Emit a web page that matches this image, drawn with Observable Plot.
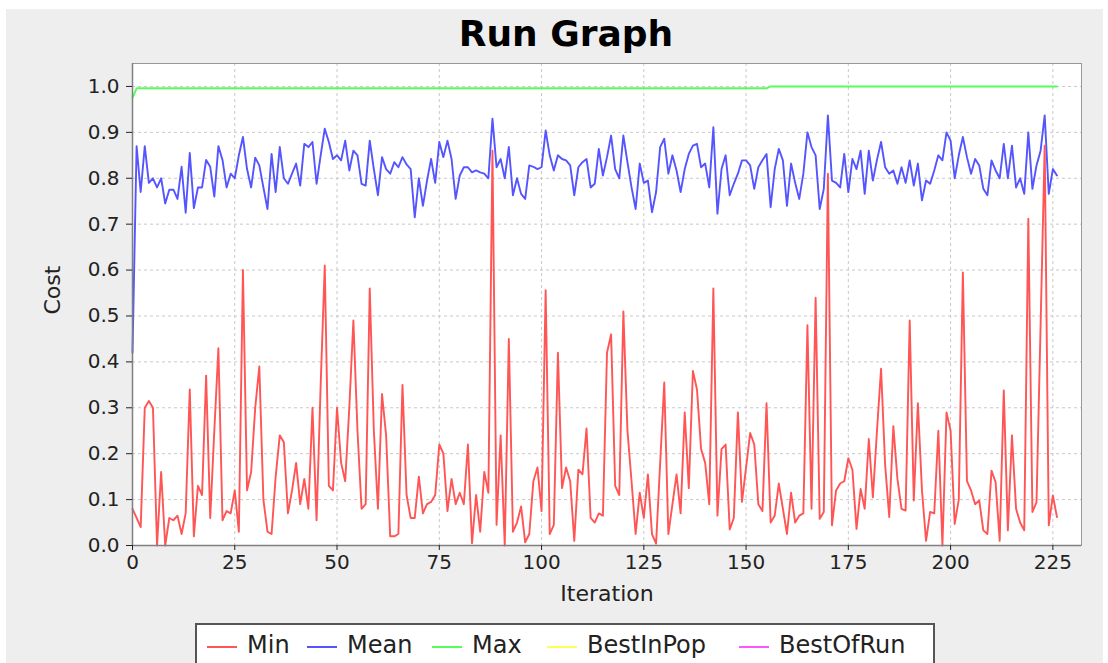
<!DOCTYPE html>
<html><head><meta charset="utf-8">
<script src="https://cdn.jsdelivr.net/npm/d3@7"></script>
<script src="https://cdn.jsdelivr.net/npm/@observablehq/plot@0.6"></script>
<style>
html,body{margin:0;padding:0;background:#ffffff;}
#wrap{position:relative;width:1108px;height:663px;overflow:hidden;background:#ffffff;font-family:"DejaVu Sans",sans-serif;}
#panel{position:absolute;left:6px;top:9px;width:1097px;height:654px;background:#eeeeee;}
#title{position:absolute;left:12px;top:12px;width:1108px;text-align:center;font-weight:bold;font-size:36px;line-height:44px;color:#000;}
#chart{position:absolute;left:0;top:58px;}
#legend{position:absolute;left:195px;top:623px;width:740px;height:48px;border:2px solid #555;background:#fff;box-sizing:border-box;font-family:"DejaVu Sans",sans-serif;font-size:24px;color:#222;}
#legend .sw{position:absolute;width:30px;height:2px;top:21px;}
#legend .tx{position:absolute;top:6px;line-height:28px;white-space:nowrap;}
</style></head><body>
<div id="wrap">
<div id="panel"></div>
<div id="title">Run Graph</div>
<div id="chart"></div>
<div id="legend"></div>
</div>
<script>
const seriesNames = ["Min", "Mean", "Max", "BestInPop", "BestOfRun"];
const seriesColors = ["#ff5555", "#5555ff", "#55ff55", "#ffff55", "#ff55ff"];
const xTicks = [0, 25, 50, 75, 100, 125, 150, 175, 200, 225];
const yTicks = [0, 0.1, 0.2, 0.3, 0.4, 0.5, 0.6, 0.7, 0.8, 0.9, 1.0];

const minCost = [
0.08,0.06,0.04,0.30,0.315,0.30,0.0,0.16,0.0,0.06,
0.055,0.065,0.025,0.07,0.34,0.02,0.13,0.11,0.37,0.06,
0.25,0.43,0.055,0.075,0.07,0.12,0.03,0.60,0.12,0.16,
0.30,0.39,0.10,0.03,0.025,0.15,0.24,0.225,0.07,0.12,
0.18,0.09,0.145,0.08,0.30,0.055,0.35,0.61,0.13,0.12,
0.30,0.18,0.14,0.30,0.49,0.25,0.08,0.09,0.56,0.25,
0.08,0.33,0.24,0.02,0.02,0.025,0.35,0.11,0.06,0.06,
0.15,0.07,0.09,0.095,0.11,0.22,0.20,0.075,0.145,0.09,
0.115,0.09,0.22,0.005,0.11,0.03,0.16,0.115,0.86,0.045,
0.24,0.0,0.45,0.03,0.05,0.085,0.007,0.025,0.14,0.17,
0.075,0.556,0.025,0.045,0.42,0.125,0.17,0.14,0.01,0.165,
0.155,0.255,0.06,0.05,0.07,0.065,0.42,0.46,0.13,0.11,
0.51,0.25,0.14,0.025,0.115,0.06,0.155,0.025,0.004,0.18,
0.355,0.025,0.09,0.155,0.07,0.29,0.125,0.38,0.34,0.21,
0.18,0.09,0.56,0.065,0.21,0.22,0.035,0.06,0.29,0.095,
0.17,0.245,0.22,0.09,0.075,0.31,0.05,0.065,0.135,0.08,
0.025,0.115,0.05,0.065,0.07,0.48,0.08,0.54,0.058,0.073,
0.81,0.044,0.12,0.135,0.14,0.19,0.165,0.036,0.123,0.08,
0.232,0.105,0.25,0.385,0.175,0.062,0.26,0.145,0.08,0.076,
0.49,0.098,0.31,0.12,0.01,0.073,0.07,0.25,0.0,0.29,
0.25,0.047,0.1,0.595,0.14,0.12,0.09,0.098,0.033,0.025,
0.163,0.138,0.01,0.338,0.033,0.24,0.08,0.05,0.033,0.712,
0.073,0.094,0.48,0.871,0.044,0.109,0.062
];

const meanCost = [
0.42,0.87,0.77,0.87,0.79,0.80,0.78,0.80,0.745,0.775,
0.775,0.755,0.825,0.725,0.855,0.735,0.78,0.78,0.84,0.825,
0.76,0.87,0.84,0.78,0.81,0.80,0.85,0.89,0.82,0.78,
0.845,0.828,0.78,0.733,0.853,0.77,0.868,0.80,0.788,0.81,
0.832,0.784,0.875,0.868,0.879,0.788,0.85,0.908,0.879,0.842,
0.85,0.839,0.882,0.817,0.86,0.85,0.788,0.784,0.882,0.82,
0.763,0.846,0.82,0.81,0.835,0.824,0.846,0.83,0.82,0.715,
0.80,0.74,0.795,0.842,0.79,0.879,0.846,0.882,0.842,0.755,
0.806,0.824,0.824,0.813,0.817,0.813,0.81,0.80,0.93,0.824,
0.842,0.80,0.868,0.763,0.80,0.766,0.755,0.828,0.825,0.82,
0.824,0.904,0.85,0.817,0.85,0.842,0.839,0.828,0.763,0.824,
0.835,0.842,0.78,0.788,0.864,0.806,0.846,0.893,0.82,0.80,
0.893,0.835,0.78,0.733,0.832,0.79,0.795,0.726,0.77,0.868,
0.886,0.81,0.85,0.817,0.77,0.82,0.853,0.871,0.875,0.824,
0.832,0.78,0.911,0.723,0.82,0.85,0.763,0.788,0.81,0.839,
0.839,0.828,0.777,0.824,0.839,0.853,0.737,0.82,0.864,0.839,
0.74,0.832,0.79,0.755,0.81,0.90,0.868,0.85,0.733,0.777,
0.937,0.795,0.79,0.78,0.853,0.77,0.842,0.82,0.86,0.766,
0.86,0.795,0.84,0.879,0.824,0.81,0.817,0.788,0.824,0.79,
0.839,0.784,0.832,0.752,0.795,0.788,0.817,0.85,0.839,0.90,
0.882,0.80,0.85,0.89,0.846,0.81,0.842,0.828,0.777,0.763,
0.839,0.817,0.80,0.875,0.80,0.871,0.78,0.80,0.766,0.90,
0.777,0.828,0.86,0.937,0.766,0.82,0.806
];

// Max series: vertices where it changes (flat otherwise)
const maxIter = [0, 1, 155, 156, 226];
const maxCost = [0.975, 0.996, 0.996, 1.0, 1.0];

const minData = minCost.map((v, i) => ({i, v}));
const meanData = meanCost.map((v, i) => ({i, v}));
const maxData = maxIter.map((i, k) => ({i, v: maxCost[k]}));

const chart = Plot.plot({
  width: 1108,
  height: 560,
  marginLeft: 132,
  marginRight: 27,
  marginTop: 5,
  marginBottom: 73,
  style: {background: "transparent", fontFamily: "DejaVu Sans, sans-serif"},
  x: {domain: [0, 232]},
  y: {domain: [0, 1.05]},
  marks: [
    Plot.frame({fill: "#ffffff"}),
    Plot.gridX(xTicks, {stroke: "#c8c8c8", strokeOpacity: 1, strokeDasharray: "3,3"}),
    Plot.gridY(yTicks, {stroke: "#c8c8c8", strokeOpacity: 1, strokeDasharray: "3,3"}),
    Plot.frame({stroke: "#999999", strokeWidth: 1}),
    Plot.line(maxData, {x: "i", y: "v", stroke: seriesColors[2], strokeWidth: 2}),
    Plot.line(meanData, {x: "i", y: "v", stroke: seriesColors[1], strokeWidth: 1.9}),
    Plot.line(minData, {x: "i", y: "v", stroke: seriesColors[0], strokeWidth: 1.9}),
    Plot.ruleX([0], {stroke: "#808080", strokeWidth: 1.5}),
    Plot.ruleY([0], {stroke: "#808080", strokeWidth: 1.5}),
    Plot.axisX({ticks: xTicks, tickSize: 5, tickPadding: 4, fontSize: 20, color: "#222", label: null, tickFormat: d => String(d)}),
    Plot.axisY({ticks: yTicks, tickSize: 6, tickPadding: 7, fontSize: 20, color: "#222", label: null, tickFormat: d => d.toFixed(1)}),
    Plot.text(["Iteration"], {frameAnchor: "bottom", dy: 55, fontSize: 22, fill: "#222", text: d => d}),
    Plot.text(["Cost"], {frameAnchor: "left", dx: -80, dy: 10, rotate: -90, fontSize: 22, fill: "#222", text: d => d})
  ]
});
document.getElementById("chart").appendChild(chart);

// legend item positions (relative to legend box)
const legLine = [10, 110, 235, 350, 542];
const leg = document.getElementById("legend");
seriesNames.forEach((n, k) => {
  const sw = document.createElement("div");
  sw.className = "sw";
  sw.style.left = legLine[k] + "px";
  sw.style.background = seriesColors[k];
  const tx = document.createElement("div");
  tx.className = "tx";
  tx.style.left = (legLine[k] + 40) + "px";
  tx.textContent = n;
  leg.appendChild(sw); leg.appendChild(tx);
});
</script>
</body></html>
